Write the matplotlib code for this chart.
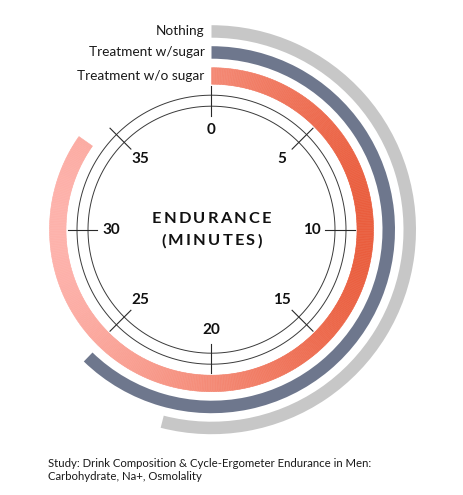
import matplotlib.pyplot as plt
import numpy as np
from matplotlib.colors import LinearSegmentedColormap
from matplotlib.transforms import offset_copy

plt.rcParams['font.family'] = ['Lato', 'DejaVu Sans']

# --- data ---
groups = ["Nothing", "Treatment w/sugar", "Treatment w/o sugar"]
minutes = [21.6, 24.9, 33.9]
scale_max = 40
tick_values = [0, 5, 10, 15, 20, 25, 30, 35]
title_lines = ["ENDURANCE", "(MINUTES)"]
source_lines = ["Study: Drink Composition & Cycle-Ergometer Endurance in Men:",
                "Carbohydrate, Na+, Osmolality"]

# --- layout (pixels) ---
W, H = 464, 495
cx, cy = 211.5, 229.7
R = 215
ring_bottom = [192, 171, 145.5]
ring_width = [12.5, 12.5, 16.5]
ring_color = ['#c7c7c7', '#6e778d', None]
grad = LinearSegmentedColormap.from_list('salmon', ['#fdb2ab', '#f48a76', '#ea5e3e'])

fig = plt.figure(figsize=(W / 100, H / 100), dpi=100)
ax = fig.add_axes([(cx - R) / W, (H - cy - R) / H, 2 * R / W, 2 * R / H], projection='polar')
ax.set_theta_zero_location('N')
ax.set_theta_direction(-1)
ax.set_ylim(0, R)
ax.axis('off')


def to_theta(v):
    return v / scale_max * 2 * np.pi


# rings
for name, val, b, w, col in zip(groups, minutes, ring_bottom, ring_width, ring_color):
    span = to_theta(val)
    if col is not None:
        ax.bar(0, w, width=span, bottom=b, align='edge', color=col, linewidth=0)
    else:
        # horizontal gradient: colour each thin slice by its x position
        n = 500
        edges = np.linspace(0, span, n + 1)
        mids = (edges[:-1] + edges[1:]) / 2
        xs = np.sin(mids)
        cols = grad((xs + 1) / 2)
        ax.bar(edges[:-1], w, width=span / n, bottom=b, align='edge',
               color=cols, edgecolor=cols, linewidth=0.4)
    lab_tr = offset_copy(ax.transData, fig=fig, x=-7, y=0, units='dots')
    ax.text(0, b + w / 2, name, transform=lab_tr, ha='right', va='center',
            fontsize=9.8, color='#1a1a1a')

# dial circles
th = np.linspace(0, 2 * np.pi, 500)
for rr in [123.5, 134.5]:
    ax.plot(th, np.full_like(th, rr), color='#3a3a3a', lw=0.7)

# ticks and labels
for tv in tick_values:
    t = to_theta(tv)
    ax.plot([t, t], [114, 143.5], color='#2a2a2a', lw=0.8)
    ax.text(t, 100, str(tv), ha='center', va='center', fontsize=11,
            fontweight='bold', color='#111111')

renderer = fig.canvas.get_renderer()


def spaced_text(x, y, s, gap, **kw):
    widths = []
    for ch in s:
        t = fig.text(0, 0, ch, **kw)
        widths.append(t.get_window_extent(renderer).width)
        t.remove()
    total = sum(widths) + gap * (len(s) - 1)
    xx = x - total / 2
    for ch, w in zip(s, widths):
        fig.text((xx + w / 2) / W, 1 - y / H, ch, ha='center', va='center', **kw)
        xx += w + gap


spaced_text(cx, 219, title_lines[0], 2.2, fontsize=11.8, fontweight='bold', color='#111111')
spaced_text(cx, 241, title_lines[1], 2.2, fontsize=11.8, fontweight='bold', color='#111111')

for i, line in enumerate(source_lines):
    fig.text(48 / W, 1 - (463.5 + i * 13.5) / H, line, ha='left', va='center',
             fontsize=8.2, color='#1a1a1a')

fig.savefig('out.png', dpi=100, facecolor='white')
